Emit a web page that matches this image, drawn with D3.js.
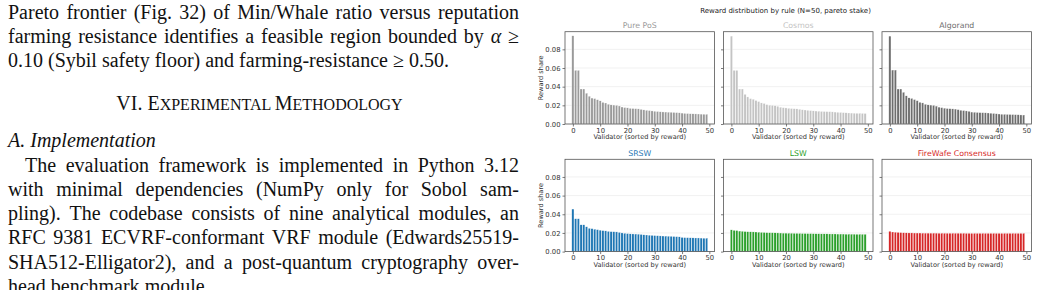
<!DOCTYPE html>
<html>
<head>
<meta charset="utf-8">
<script src="https://cdn.jsdelivr.net/npm/d3@7"></script>
<style>
body { margin: 0; background: #fff; width: 1039px; height: 290px; overflow: hidden; }
svg { display: block; }
</style>
</head>
<body>
<script>

// ---- chart data ----
var ruleNames = ['Pure PoS', 'Cosmos', 'Algorand', 'SRSW', 'LSW', 'FireWafe Consensus'];
var ruleColors = ['#9a9a9a', '#c4c4c4', '#6e6e6e', '#1f77b4', '#2ca02c', '#d62728'];

var purePos = [0.0945, 0.0575, 0.0575, 0.0375, 0.0375, 0.0330, 0.0298, 0.0278, 0.0272, 0.0260,
	0.0248, 0.0232, 0.0225, 0.0212, 0.0205, 0.0203, 0.0200, 0.0193, 0.0182, 0.0176,
	0.0173, 0.0168, 0.0166, 0.0164, 0.0162, 0.0157, 0.0151, 0.0147, 0.0144, 0.0140,
	0.0137, 0.0134, 0.0131, 0.0129, 0.0128, 0.0127, 0.0126, 0.0124, 0.0122, 0.0120,
	0.0117, 0.0114, 0.0112, 0.0110, 0.0109, 0.0108, 0.0107, 0.0106, 0.0105, 0.0104];
var cosmos = [0.0942, 0.0575, 0.0575, 0.0375, 0.0375, 0.0318, 0.0290, 0.0272, 0.0266, 0.0252,
	0.0240, 0.0226, 0.0220, 0.0208, 0.0202, 0.0200, 0.0196, 0.0190, 0.0180, 0.0175,
	0.0172, 0.0168, 0.0166, 0.0164, 0.0162, 0.0158, 0.0153, 0.0150, 0.0147, 0.0144,
	0.0141, 0.0139, 0.0137, 0.0135, 0.0134, 0.0133, 0.0132, 0.0130, 0.0128, 0.0126,
	0.0124, 0.0122, 0.0120, 0.0118, 0.0117, 0.0116, 0.0115, 0.0115, 0.0114, 0.0113];
var algorand = [0.0942, 0.0578, 0.0578, 0.0375, 0.0375, 0.0340, 0.0302, 0.0280, 0.0274, 0.0262,
	0.0250, 0.0233, 0.0226, 0.0212, 0.0205, 0.0203, 0.0200, 0.0192, 0.0181, 0.0175,
	0.0170, 0.0166, 0.0164, 0.0162, 0.0160, 0.0154, 0.0148, 0.0144, 0.0140, 0.0136,
	0.0128, 0.0126, 0.0124, 0.0122, 0.0121, 0.0120, 0.0118, 0.0116, 0.0113, 0.0110,
	0.0107, 0.0105, 0.0104, 0.0103, 0.0102, 0.0101, 0.0100, 0.0099, 0.0097, 0.0096];
var srsw = [0.0456, 0.0352, 0.0352, 0.0287, 0.0287, 0.0266, 0.0250, 0.0246, 0.0240, 0.0235,
	0.0230, 0.0225, 0.0222, 0.0217, 0.0214, 0.0213, 0.0211, 0.0206, 0.0200, 0.0196,
	0.0193, 0.0190, 0.0189, 0.0188, 0.0187, 0.0184, 0.0180, 0.0178, 0.0176, 0.0174,
	0.0172, 0.0170, 0.0168, 0.0167, 0.0166, 0.0165, 0.0164, 0.0162, 0.0160, 0.0158,
	0.0152, 0.0150, 0.0149, 0.0148, 0.0147, 0.0146, 0.0146, 0.0145, 0.0144, 0.0144];
var lsw = [0.0233, 0.0228, 0.0226, 0.0220, 0.0218, 0.0215, 0.0213, 0.0212, 0.0211, 0.0210,
	0.0208, 0.0206, 0.0205, 0.0203, 0.0202, 0.0202, 0.0201, 0.0200, 0.0199, 0.0198,
	0.0198, 0.0197, 0.0197, 0.0196, 0.0196, 0.0195, 0.0194, 0.0194, 0.0193, 0.0193,
	0.0192, 0.0191, 0.0191, 0.0190, 0.0190, 0.0190, 0.0189, 0.0189, 0.0189, 0.0188,
	0.0188, 0.0188, 0.0187, 0.0187, 0.0187, 0.0187, 0.0186, 0.0186, 0.0186, 0.0186];
var fireWafe = [0.0218, 0.0210, 0.0208, 0.0206, 0.0204, 0.0202, 0.0201, 0.0200, 0.0200, 0.0199,
	0.0199, 0.0199, 0.0198, 0.0198, 0.0198, 0.0198, 0.0198, 0.0198, 0.0197, 0.0197,
	0.0197, 0.0197, 0.0197, 0.0197, 0.0197, 0.0197, 0.0197, 0.0197, 0.0196, 0.0196,
	0.0196, 0.0196, 0.0196, 0.0196, 0.0196, 0.0196, 0.0196, 0.0196, 0.0196, 0.0196,
	0.0196, 0.0196, 0.0196, 0.0196, 0.0196, 0.0196, 0.0196, 0.0196, 0.0196, 0.0196];
var ruleValues = [purePos, cosmos, algorand, srsw, lsw, fireWafe];

var xTicks = [0, 10, 20, 30, 40, 50];
var yTicks = [0.00, 0.02, 0.04, 0.06, 0.08];

// ---- page text (left column) ----
var para1 = ['Pareto frontier (Fig. 32) of Min/Whale ratio versus reputation',
	'farming resistance identifies a feasible region bounded by _α_ ≥',
	'0.10 (Sybil safety floor) and farming-resistance ≥ 0.50.'];
var para2 = ['The evaluation framework is implemented in Python 3.12',
	'with minimal dependencies (NumPy only for Sobol sam-',
	'pling). The codebase consists of nine analytical modules, an',
	'RFC 9381 ECVRF-conformant VRF module (Edwards25519-',
	'SHA512-Elligator2), and a post-quantum cryptography over-',
	'head benchmark module.'];

var opt = {
	width: 1039, height: 290,
	colX: [565, 723.5, 882], panelW: 149.5,
	rowY: [31.7, 159.3], panelH: 92.3,
	textLeft: 8, textRight: 519, indent: 17,
	leading: 24.3,
	serif: '"Liberation Serif", "Times New Roman", serif',
	sans: '"DejaVu Sans", sans-serif'
};

var svg = d3.select('body').append('svg')
	.attr('width', opt.width)
	.attr('height', opt.height);

// justified line of words, "_w_" means italic
function textLine(g, str, y, x0, x1, justify) {
	var words = str.split(' ');
	var nodes = words.map(function(w) {
		var it = /^_.*_$/.test(w);
		return g.append('text')
			.attr('y', y)
			.style('font-family', opt.serif)
			.style('font-size', '20px')
			.style('font-style', it ? 'italic' : 'normal')
			.attr('fill', '#111')
			.text(it ? w.slice(1, -1) : w);
	});
	var widths = nodes.map(function(n) { return n.node().getComputedTextLength(); });
	var total = d3.sum(widths);
	var gap = justify ? (x1 - x0 - total) / (words.length - 1) : 5;
	var x = x0;
	nodes.forEach(function(n, i) {
		n.attr('x', x);
		x += widths[i] + gap;
	});
}

var txt = svg.append('g').attr('class', 'page-text');
para1.forEach(function(s, i) {
	textLine(txt, s, 18.5 + i * opt.leading, opt.textLeft, opt.textRight, i < para1.length - 1);
});

var head = txt.append('text')
	.attr('x', (opt.textLeft + opt.textRight) / 2 - 4)
	.attr('y', 109.5)
	.attr('text-anchor', 'middle')
	.style('font-family', opt.serif)
	.attr('fill', '#111');
[['VI. E', 20], ['XPERIMENTAL ', 16], ['M', 20], ['ETHODOLOGY', 16]].forEach(function(p) {
	head.append('tspan').style('font-size', p[1] + 'px').text(p[0]);
});

txt.append('text')
	.attr('x', opt.textLeft)
	.attr('y', 147)
	.style('font-family', opt.serif)
	.style('font-size', '20px')
	.style('font-style', 'italic')
	.attr('fill', '#111')
	.text('A.  Implementation');

para2.forEach(function(s, i) {
	textLine(txt, s, 171.5 + i * opt.leading, opt.textLeft + (i === 0 ? opt.indent : 0), opt.textRight, i < para2.length - 1);
});

// ---- chart ----
var chart = svg.append('g').attr('class', 'chart');

chart.append('text')
	.attr('x', 785.5)
	.attr('y', 12.5)
	.attr('text-anchor', 'middle')
	.style('font-family', opt.sans)
	.style('font-size', '7px')
	.attr('fill', '#222')
	.text('Reward distribution by rule (N=50, pareto stake)');

var x = d3.scaleLinear().domain([-2.89, 51.89]).range([0, opt.panelW]);
var y = d3.scaleLinear().domain([0, 0.0989]).range([opt.panelH, 0]);

ruleNames.forEach(function(name, k) {
	var r = Math.floor(k / 3), c = k % 3;
	var g = chart.append('g')
		.attr('transform', 'translate(' + opt.colX[c] + ',' + opt.rowY[r] + ')');

	// grid
	g.selectAll('.grid')
		.data(yTicks)
		.enter().append('line')
			.attr('x1', 0).attr('x2', opt.panelW)
			.attr('y1', function(d) { return y(d); })
			.attr('y2', function(d) { return y(d); })
			.attr('stroke', '#ebebeb')
			.attr('stroke-width', 0.7);

	// bars
	var bw = x(0.8) - x(0);
	g.selectAll('.bar')
		.data(ruleValues[k])
		.enter().append('rect')
			.attr('x', function(d, i) { return x(i - 0.4); })
			.attr('y', function(d) { return y(d); })
			.attr('width', bw)
			.attr('height', function(d) { return opt.panelH - y(d); })
			.attr('fill', ruleColors[k])
			.attr('stroke', '#fff')
			.attr('stroke-width', 0.3);

	// axes
	var ya = g.append('g')
		.call(d3.axisLeft(y).tickValues(yTicks).tickSize(2.5).tickPadding(2)
			.tickFormat(c === 0 ? d3.format('.2f') : ''));
	var xa = g.append('g')
		.attr('transform', 'translate(0,' + opt.panelH + ')')
		.call(d3.axisBottom(x).tickValues(xTicks).tickSize(2.5).tickPadding(1.5));
	[ya, xa].forEach(function(a) {
		a.select('.domain').remove();
		a.selectAll('line').attr('stroke', '#444').attr('stroke-width', 0.7);
		a.selectAll('text')
			.style('font-family', opt.sans)
			.style('font-size', '6.8px')
			.attr('fill', '#333');
	});

	// frame
	g.append('rect')
		.attr('width', opt.panelW)
		.attr('height', opt.panelH)
		.attr('fill', 'none')
		.attr('stroke', '#555')
		.attr('stroke-width', 0.8);

	g.append('text')
		.attr('x', opt.panelW / 2)
		.attr('y', -3.5)
		.attr('text-anchor', 'middle')
		.style('font-family', opt.sans)
		.style('font-size', '7.8px')
		.attr('fill', ruleColors[k])
		.text(name);

	g.append('text')
		.attr('x', opt.panelW / 2)
		.attr('y', opt.panelH + 15.5)
		.attr('text-anchor', 'middle')
		.style('font-family', opt.sans)
		.style('font-size', '6.6px')
		.attr('fill', '#333')
		.text('Validator (sorted by reward)');

	if (c === 0) {
		g.append('text')
			.attr('transform', 'translate(-22,' + (opt.panelH / 2) + ') rotate(-90)')
			.attr('text-anchor', 'middle')
			.style('font-family', opt.sans)
			.style('font-size', '6.6px')
			.attr('fill', '#333')
			.text('Reward share');
	}
});

</script>
</body>
</html>
